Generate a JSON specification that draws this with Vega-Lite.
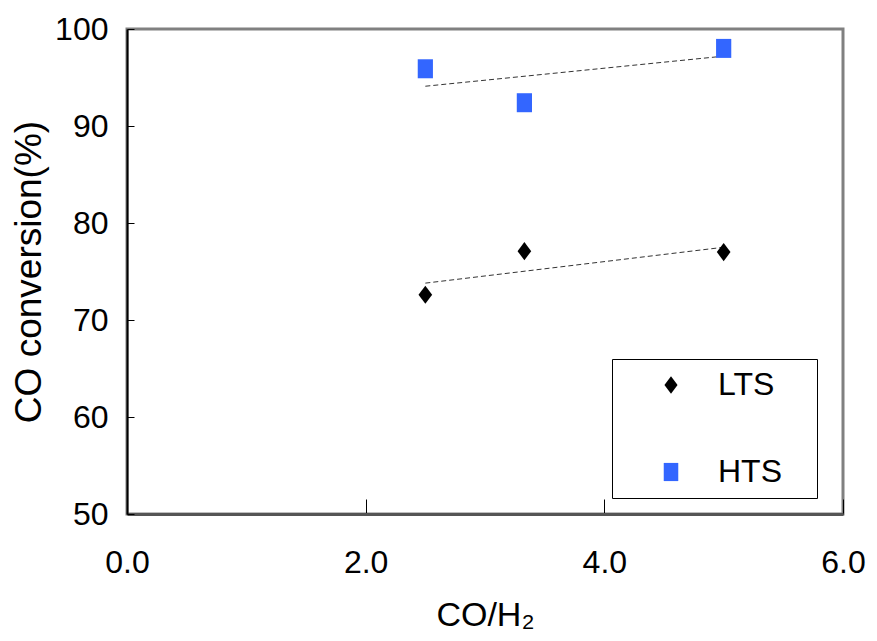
{
  "$schema": "https://vega.github.io/schema/vega-lite/v6.json",
  "width": 716,
  "height": 485,
  "autosize": "none",
  "padding": {"left": 127, "top": 29, "right": 34, "bottom": 127},
  "background": "white",
  "config": {
    "view": {"stroke": "#808080", "strokeWidth": 3},
    "font": "Liberation Sans",
    "axis": {
      "grid": false,
      "labelColor": "black",
      "titleColor": "black",
      "titleFontWeight": "normal",
      "labelFont": "Liberation Sans",
      "titleFont": "Liberation Sans",
      "tickColor": "black"
    }
  },
  "datasets": {
    "points": [
      {"ratio": 2.5, "conversion": 72.6, "series": "LTS"},
      {"ratio": 3.33, "conversion": 77.1, "series": "LTS"},
      {"ratio": 5.0, "conversion": 77.0, "series": "LTS"},
      {"ratio": 2.5, "conversion": 95.9, "series": "HTS"},
      {"ratio": 3.33, "conversion": 92.4, "series": "HTS"},
      {"ratio": 5.0, "conversion": 98.0, "series": "HTS"}
    ],
    "trend": [
      {"ratio": 2.5, "conversion": 73.8, "series": "LTS"},
      {"ratio": 5.0, "conversion": 77.5, "series": "LTS"},
      {"ratio": 2.5, "conversion": 94.1, "series": "HTS"},
      {"ratio": 5.0, "conversion": 97.2, "series": "HTS"}
    ]
  },
  "layer": [
    {
      "data": {"name": "trend"},
      "mark": {"type": "line", "strokeDash": [5, 3], "color": "#333333", "strokeWidth": 1},
      "encoding": {
        "x": {"field": "ratio", "type": "quantitative", "scale": {"domain": [0, 6]}},
        "y": {"field": "conversion", "type": "quantitative", "scale": {"domain": [50, 100]}},
        "detail": {"field": "series", "type": "nominal"}
      }
    },
    {
      "data": {"name": "points"},
      "mark": {"type": "point", "filled": true, "opacity": 1, "size": 361},
      "encoding": {
        "x": {
          "field": "ratio", "type": "quantitative",
          "scale": {"domain": [0, 6]},
          "axis": {
            "values": [0, 2, 4, 6], "format": ".1f", "title": "CO/H₂",
            "tickSize": -15, "labelPadding": 48, "labelFontSize": 32,
            "titleFontSize": 34, "titlePadding": 20,
            "domainColor": "#555555", "domainWidth": 3, "labelFlush": false
          }
        },
        "y": {
          "field": "conversion", "type": "quantitative",
          "scale": {"domain": [50, 100]},
          "axis": {
            "values": [50, 60, 70, 80, 90, 100], "title": "CO conversion(%)",
            "tickSize": -7, "labelPadding": 26, "labelFontSize": 32,
            "titleFontSize": 37, "titlePadding": 6,
            "domainColor": "black", "domainWidth": 2, "labelFlush": false
          }
        },
        "shape": {
          "field": "series", "type": "nominal",
          "scale": {"domain": ["LTS", "HTS"], "range": ["M0,-0.95L0.72,0L0,0.95L-0.72,0Z", "M-0.8,-1L0.8,-1L0.8,1L-0.8,1Z"]},
          "legend": {
            "title": ".", "titleOrient": "right", "titleColor": "white",
            "titleFontSize": 10, "titlePadding": 22,
            "orient": "none", "legendX": 485, "legendY": 330,
            "strokeColor": "black", "padding": 10,
            "symbolSize": 330, "symbolOffset": 33, "labelOffset": 31,
            "labelFontSize": 32, "labelColor": "black",
            "rowPadding": 55
          }
        },
        "color": {
          "field": "series", "type": "nominal",
          "scale": {"domain": ["LTS", "HTS"], "range": ["black", "#3366ff"]}
        }
      }
    }
  ]
}
